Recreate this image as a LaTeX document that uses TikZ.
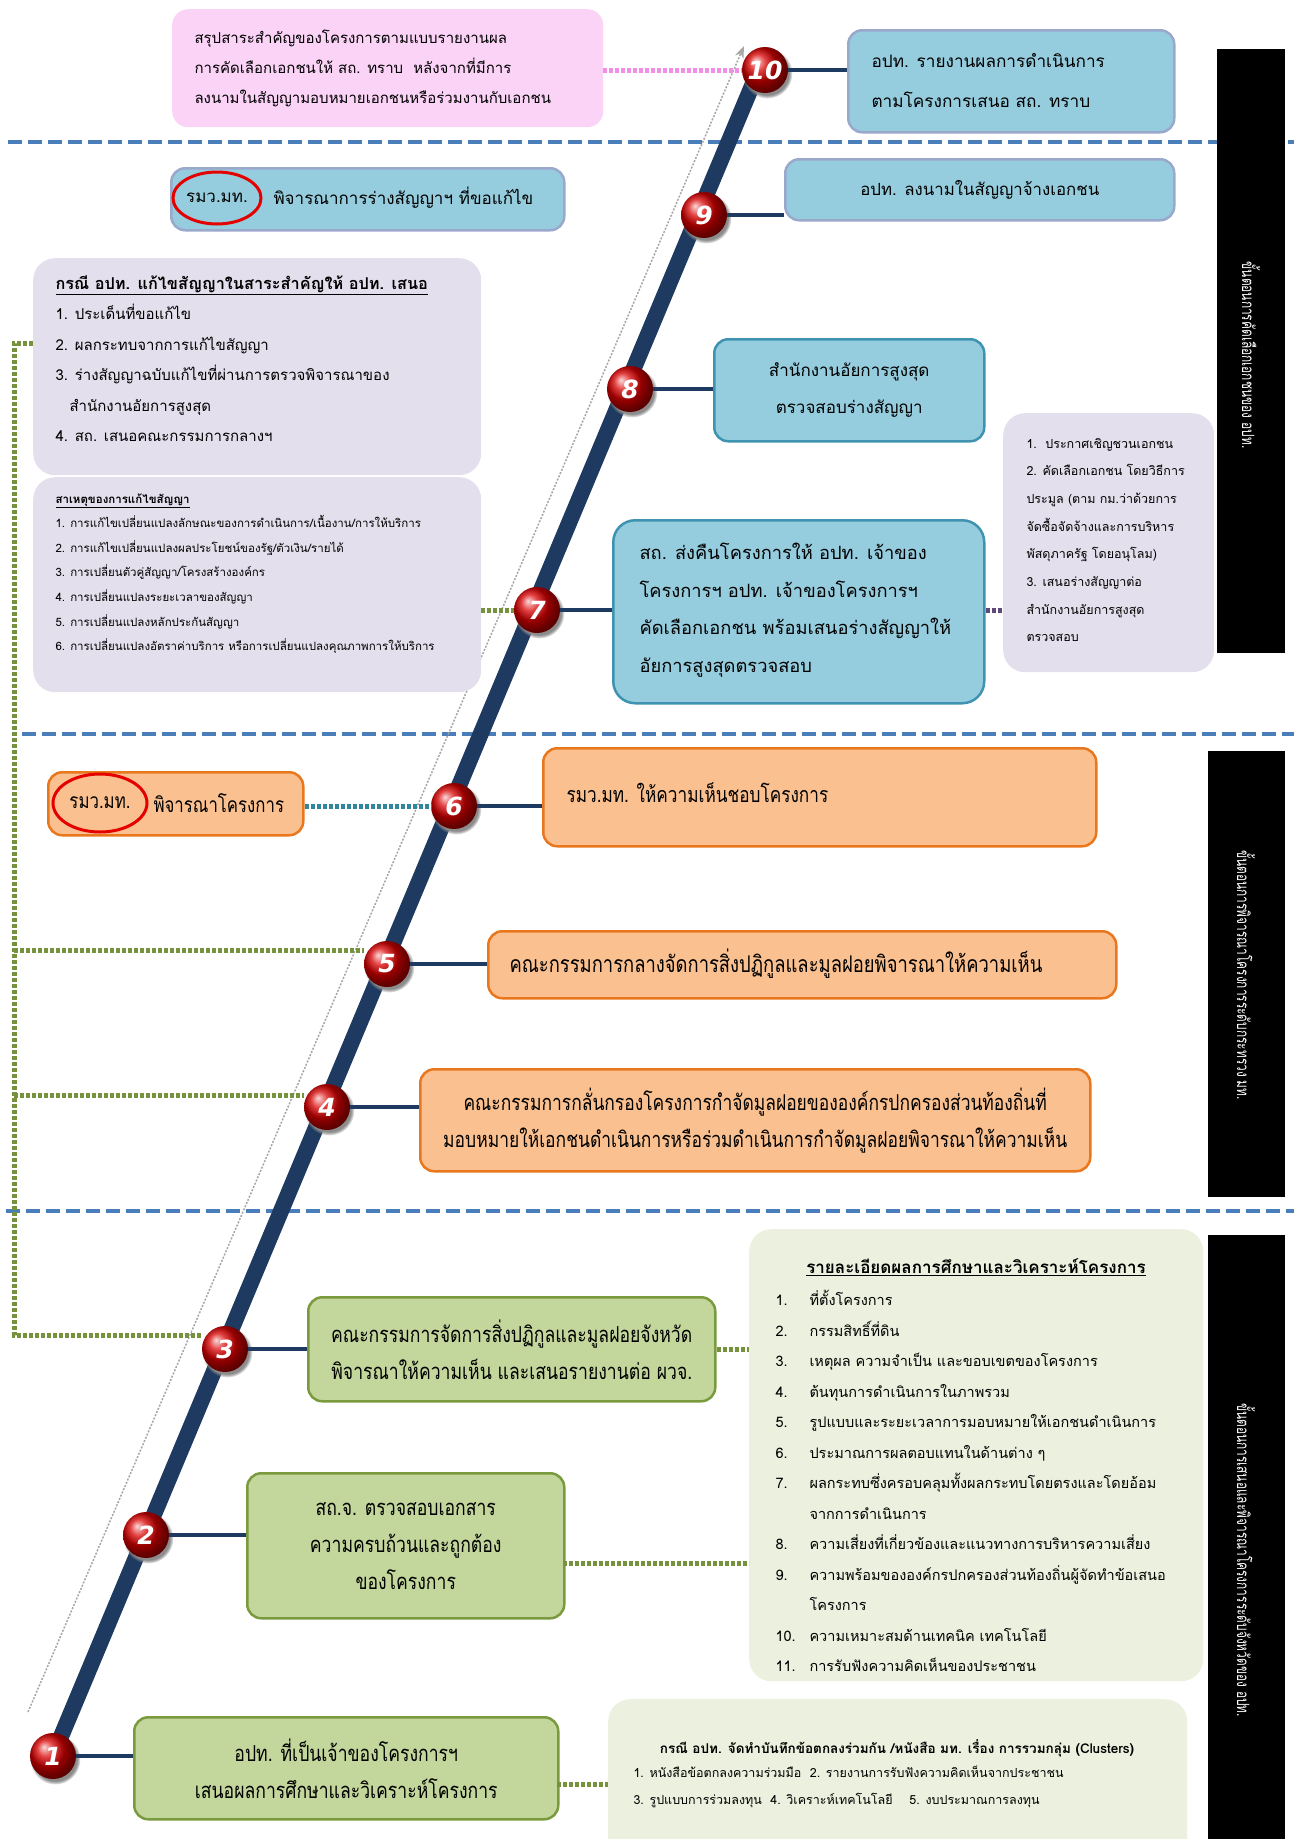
\documentclass[tikz,border=0pt]{standalone}
\usepackage{fontspec}
\setmainfont[Script=Thai]{Loma}
\newfontfamily\thn[Script=Thai,FakeStretch=0.8]{Loma}
\newfontfamily\thv[Script=Thai,FakeStretch=0.7]{Loma}
\newfontfamily\numf{DejaVu Sans}
\usetikzlibrary{shapes.geometric,shadows,arrows.meta}
\definecolor{navy}{HTML}{1F3A60}
\definecolor{bluefill}{HTML}{95CDDE}
\definecolor{blueline}{HTML}{9AA8CC}
\definecolor{blueline2}{HTML}{3F93B0}
\definecolor{orfill}{HTML}{FAC08F}
\definecolor{orline}{HTML}{E8771E}
\definecolor{grfill}{HTML}{C3D69B}
\definecolor{grline}{HTML}{7A9A3E}
\definecolor{lav}{HTML}{E4DFEC}
\definecolor{ltgreen}{HTML}{EBF1DE}
\definecolor{pinkfill}{HTML}{FAD3F6}
\definecolor{dashblue}{HTML}{4A7EBB}
\definecolor{dotgreen}{HTML}{76923C}
\definecolor{dotpurple}{HTML}{5F497A}
\definecolor{dotteal}{HTML}{31859C}
\definecolor{dotpink}{HTML}{F28EE6}
\newcommand\fs[2]{\fontsize{#1}{#2}\selectfont}
\begin{document}
\begin{tikzpicture}[x=1pt,y=-1pt,
  boxbase/.style={rounded corners=14pt, line width=2.5pt, inner sep=0pt, anchor=north west},
  bluebox/.style={boxbase, fill=bluefill, draw=blueline},
  bluebox2/.style={boxbase, fill=bluefill, draw=blueline2},
  orbox/.style={boxbase, fill=orfill, draw=orline},
  grbox/.style={boxbase, fill=grfill, draw=grline},
  lavbox/.style={rounded corners=22pt, fill=lav, inner sep=0pt, anchor=north west},
  ltgbox/.style={rounded corners=22pt, fill=ltgreen, inner sep=0pt, anchor=north west},
  pinkbox/.style={rounded corners=16pt, fill=pinkfill, inner sep=0pt, anchor=north west},
  blkbox/.style={fill=black, inner sep=0pt, anchor=north west},
  ball/.style={circle, minimum size=46pt, inner sep=0pt, shading=ball, ball color=red!85!black,
     circular drop shadow={shadow xshift=2pt, shadow yshift=-3pt, fill=black!45},
     text=white, font=\numf\bfseries\itshape\fs{25}{25}},
  link/.style={navy, line width=3.5pt},
  gdot/.style={dotgreen, line width=5pt, dash pattern=on 4pt off 2pt},
  sect/.style={dashblue, line width=4pt, dash pattern=on 14pt off 6pt},
  redell/.style={ellipse, draw=red!90!black, line width=3pt, inner sep=0pt},
  vlabel/.style={text=white, rotate=-90, font=\thv\fs{17}{20}}
]
\useasboundingbox (0,0) rectangle (1294,1839);

% section separators
\draw[sect] (8,142) -- (1294,142);
\draw[sect] (22,734) -- (1294,734);
\draw[sect] (6,1211) -- (1294,1211);

% black side labels
\node[blkbox, minimum width=68pt, minimum height=604pt] (blk1) at (1217,49) {};
\node[blkbox, minimum width=77pt, minimum height=446pt] (blk2) at (1208,751) {};
\node[blkbox, minimum width=77pt, minimum height=604pt] (blk3) at (1208,1235) {};
\node[vlabel] (v1) at (1251,355) {ขั้นตอนการคัดเลือกเอกชนของ อปท.};
\node[vlabel] (v2) at (1246,975) {ขั้นตอนการพิจารณาโครงการระดับกระทรวง มท.};
\node[vlabel] (v3) at (1246,1560) {ขั้นตอนการเสนอและพิจารณาโครงการระดับจังหวัดของ อปท.};

% timeline
\coordinate (t0) at (47,1770);
\coordinate (t1) at (762,62);
\coordinate (g0) at (28,1712);
\coordinate (g1) at (744,46);
\draw[black!35, line width=1.5pt, dash pattern=on 2pt off 1.5pt, -{Stealth[length=12pt,width=9pt]}] (g0) -- (g1);
\draw[navy, line width=16pt] (t0) -- (t1);

% circles positions
\coordinate (p1) at (53,1756);
\coordinate (p2) at (146,1535);
\coordinate (p3) at (225,1349);
\coordinate (p4) at (327,1107);
\coordinate (p5) at (387,964);
\coordinate (p6) at (454,806);
\coordinate (p7) at (537,610);
\coordinate (p8) at (630,389);
\coordinate (p9) at (704,215);
\coordinate (p10) at (765,70);

% boxes - top section
\node[pinkbox, minimum width=431pt, minimum height=118pt] (pink) at (172,9) {};
\node[anchor=west, align=left, font=\fs{15}{30}] (pinkt) at (191,68)
  {สรุปสาระสำคัญของโครงการตามแบบรายงานผล\\การคัดเลือกเอกชนให้ สถ. ทราบ\ \ หลังจากที่มีการ\\ลงนามในสัญญามอบหมายเอกชนหรือร่วมงานกับเอกชน};

\node[bluebox, minimum width=326pt, minimum height=102pt] (b10) at (847,29) {};
\node[anchor=west, align=left, font=\fs{17.2}{40}] (b10t) at (868,81)
  {อปท. รายงานผลการดำเนินการ\\ตามโครงการเสนอ สถ. ทราบ};

\node[bluebox, minimum width=389pt, minimum height=61pt, font=\fs{16.8}{20}] (b9) at (784,158) {อปท. ลงนามในสัญญาจ้างเอกชน};

\node[bluebox, minimum width=393pt, minimum height=62pt] (brm1) at (170,167) {};
\node[redell, minimum width=88pt, minimum height=52pt, font=\fs{17}{20}] (e1) at (217,198) {รมว.มท.};
\node[anchor=west, font=\fs{17}{20}] (brm1t) at (270,198) {พิจารณาการร่างสัญญาฯ ที่ขอแก้ไข};

\node[lavbox, minimum width=448pt, minimum height=217pt] (lav1) at (33,258) {};
\node[anchor=north west, align=left, font=\fs{15}{30.5}] (lav1t) at (52,272)
  {\textbf{\fs{16.3}{30.5}\underline{กรณี อปท. แก้ไขสัญญาในสาระสำคัญให้ อปท. เสนอ}}\\
   1. ประเด็นที่ขอแก้ไข\\
   2. ผลกระทบจากการแก้ไขสัญญา\\
   3. ร่างสัญญาฉบับแก้ไขที่ผ่านการตรวจพิจารณาของ\\
   \hspace*{14pt}สำนักงานอัยการสูงสุด\\
   4. สถ. เสนอคณะกรรมการกลางฯ};

\node[lavbox, minimum width=448pt, minimum height=215pt] (lav2) at (33,477) {};
\node[anchor=north west, align=left, font=\fs{11.5}{24.6}] (lav2t) at (52,490)
  {\underline{\textbf{สาเหตุของการแก้ไขสัญญา}}\\
   1. การแก้ไขเปลี่ยนแปลงลักษณะของการดำเนินการ/เนื้องาน/การให้บริการ\\
   2. การแก้ไขเปลี่ยนแปลงผลประโยชน์ของรัฐ/ตัวเงิน/รายได้\\
   3. การเปลี่ยนตัวคู่สัญญา/โครงสร้างองค์กร\\
   4. การเปลี่ยนแปลงระยะเวลาของสัญญา\\
   5. การเปลี่ยนแปลงหลักประกันสัญญา\\
   6. การเปลี่ยนแปลงอัตราค่าบริการ หรือการเปลี่ยนแปลงคุณภาพการให้บริการ};

\node[bluebox2, minimum width=270pt, minimum height=102pt, align=center, font=\fs{17}{37}] (b8) at (713,338)
  {สำนักงานอัยการสูงสุด\\ตรวจสอบร่างสัญญา};

\node[bluebox2, minimum width=371pt, minimum height=183pt, rounded corners=22pt] (b7) at (612,519) {};
\node[anchor=west, align=left, font=\fs{18.3}{37.7}] (b7t) at (636,610)
  {สถ. ส่งคืนโครงการให้ อปท. เจ้าของ\\โครงการฯ อปท. เจ้าของโครงการฯ\\คัดเลือกเอกชน พร้อมเสนอร่างสัญญาให้\\อัยการสูงสุดตรวจสอบ};

\node[lavbox, minimum width=211pt, minimum height=259pt] (lavR) at (1003,413) {};
\node[anchor=west, align=left, font=\fs{12.5}{27.7}] (lavRt) at (1023,540)
  {1.\ \ ประกาศเชิญชวนเอกชน\\2. คัดเลือกเอกชน โดยวิธีการ\\ประมูล (ตาม กม.ว่าด้วยการ\\จัดซื้อจัดจ้างและการบริหาร\\พัสดุภาครัฐ โดยอนุโลม)\\3. เสนอร่างสัญญาต่อ\\สำนักงานอัยการสูงสุด\\ตรวจสอบ};

% middle section
\node[orbox, minimum width=255pt, minimum height=63pt] (brm2) at (47,771) {};
\node[redell, minimum width=94pt, minimum height=58pt, font=\thn\fs{21}{22}] (e2) at (100,803) {รมว.มท.};
\node[anchor=west, font=\thn\fs{21}{22}] (brm2t) at (150,803) {พิจารณาโครงการ};

\node[orbox, minimum width=553pt, minimum height=98pt] (b6) at (542,747) {};
\node[anchor=west, font=\thn\fs{21.5}{24}] (b6t) at (563,793) {รมว.มท. ให้ความเห็นชอบโครงการ};

\node[orbox, minimum width=628pt, minimum height=67pt] (b5) at (487,930) {};
\node[anchor=west, font=\thn\fs{23}{24}] (b5t) at (506,964) {คณะกรรมการกลางจัดการสิ่งปฏิกูลและมูลฝอยพิจารณาให้ความเห็น};

\node[orbox, minimum width=670pt, minimum height=102pt, align=center, font=\thn\fs{21.8}{37}] (b4) at (419,1068)
  {คณะกรรมการกลั่นกรองโครงการกำจัดมูลฝอยขององค์กรปกครองส่วนท้องถิ่นที่\\มอบหมายให้เอกชนดำเนินการหรือร่วมดำเนินการกำจัดมูลฝอยพิจารณาให้ความเห็น};

% bottom section
\node[grbox, minimum width=407pt, minimum height=104pt, align=center, font=\thn\fs{22}{37}] (b3) at (307,1296)
  {คณะกรรมการจัดการสิ่งปฏิกูลและมูลฝอยจังหวัด\\พิจารณาให้ความเห็น และเสนอรายงานต่อ ผวจ.};

\node[grbox, minimum width=317pt, minimum height=145pt, align=center, font=\thn\fs{22}{37}] (b2) at (246,1472)
  {สถ.จ. ตรวจสอบเอกสาร\\ความครบถ้วนและถูกต้อง\\ของโครงการ};

\node[grbox, minimum width=424pt, minimum height=102pt, align=center, font=\thn\fs{22}{37}] (b1) at (133,1716)
  {อปท. ที่เป็นเจ้าของโครงการฯ\\เสนอผลการศึกษาและวิเคราะห์โครงการ};

\node[ltgbox, minimum width=454pt, minimum height=452pt] (detail) at (749,1229) {};
\node[font=\bfseries\fs{17}{20}] (dtitle) at (976,1267) {\underline{รายละเอียดผลการศึกษาและวิเคราะห์โครงการ}};
\node[anchor=north west, align=left, font=\fs{14.5}{30.5}] (dlist) at (772,1287)
  {\makebox[34pt][l]{1.}ที่ตั้งโครงการ\\
   \makebox[34pt][l]{2.}กรรมสิทธิ์ที่ดิน\\
   \makebox[34pt][l]{3.}เหตุผล ความจำเป็น และขอบเขตของโครงการ\\
   \makebox[34pt][l]{4.}ต้นทุนการดำเนินการในภาพรวม\\
   \makebox[34pt][l]{5.}รูปแบบและระยะเวลาการมอบหมายให้เอกชนดำเนินการ\\
   \makebox[34pt][l]{6.}ประมาณการผลตอบแทนในด้านต่าง ๆ\\
   \makebox[34pt][l]{7.}ผลกระทบซึ่งครอบคลุมทั้งผลกระทบโดยตรงและโดยอ้อม\\
   \makebox[34pt][l]{}จากการดำเนินการ\\
   \makebox[34pt][l]{8.}ความเสี่ยงที่เกี่ยวข้องและแนวทางการบริหารความเสี่ยง\\
   \makebox[34pt][l]{9.}ความพร้อมขององค์กรปกครองส่วนท้องถิ่นผู้จัดทำข้อเสนอ\\
   \makebox[34pt][l]{}โครงการ\\
   \makebox[34pt][l]{10.}ความเหมาะสมด้านเทคนิค เทคโนโลยี\\
   \makebox[34pt][l]{11.}การรับฟังความคิดเห็นของประชาชน};

\node[ltgbox, minimum width=579pt, minimum height=170pt] (bot) at (608,1699) {};
\node[font=\bfseries\fs{13.5}{16}] (bottitle) at (897,1748) {กรณี อปท. จัดทำบันทึกข้อตกลงร่วมกัน /หนังสือ มท. เรื่อง การรวมกลุ่ม (Clusters)};
\node[anchor=north west, align=left, font=\fs{12.5}{27}] (botlist) at (630,1762)
  {1. หนังสือข้อตกลงความร่วมมือ\ \ 2. รายงานการรับฟังความคิดเห็นจากประชาชน\\
   3. รูปแบบการร่วมลงทุน\ \ 4. วิเคราะห์เทคโนโลยี\ \ \ \ 5. งบประมาณการลงทุน};

% circles
\node[ball] (c1) at (p1) {1};
\node[ball] (c2) at (p2) {2};
\node[ball] (c3) at (p3) {3};
\node[ball] (c4) at (p4) {4};
\node[ball] (c5) at (p5) {5};
\node[ball] (c6) at (p6) {6};
\node[ball] (c7) at (p7) {7};
\node[ball] (c8) at (p8) {8};
\node[ball] (c9) at (p9) {9};
\node[ball] (c10) at (p10) {10};

% navy links circle -> box
\draw[link] (c10.east) -- (c10.east -| b10.west);
\draw[link] (c9.east) -- (c9.east -| b9.west);
\draw[link] (c8.east) -- (c8.east -| b8.west);
\draw[link] (c7.east) -- (c7.east -| b7.west);
\draw[link] (c6.east) -- (c6.east -| b6.west);
\draw[link] (c5.east) -- (c5.east -| b5.west);
\draw[link] (c4.east) -- (c4.east -| b4.west);
\draw[link] (c3.east) -- (c3.east -| b3.west);
\draw[link] (c2.east) -- (c2.east -| b2.west);
\draw[link] (c1.east) -- (c1.east -| b1.west);

% dotted connectors
\draw[dotpink, line width=5pt, dash pattern=on 4pt off 2pt] (pink.east |- c10) -- (c10.west);
\draw[gdot] (lav2.east |- c7) -- (c7.west);
\draw[dotpurple, line width=5pt, dash pattern=on 4pt off 2pt] (b7.east |- c7) -- (lavR.west |- c7);
\draw[dotteal, line width=5pt, dash pattern=on 4pt off 2pt] (brm2.east |- c6) -- (c6.west);
\draw[gdot] (b3.east |- c3) -- (detail.west |- c3);
\coordinate (k2) at (563,1563);
\draw[gdot] (k2) -- (k2 -| detail.west);
\coordinate (k1) at (557,1784);
\draw[gdot] (k1) -- (k1 -| bot.west);

% left bracket
\coordinate (q0) at (14,343);
\coordinate (q5) at (14,950);
\coordinate (q4) at (14,1095);
\coordinate (q3) at (14,1335);
\draw[gdot] (q0 -| lav1.west) -- (q0) -- (q3) -- (q3 -| c3.west);
\draw[gdot] (q5) -- (q5 -| c5.west);
\draw[gdot] (q4) -- (q4 -| c4.west);
\end{tikzpicture}
\end{document}
